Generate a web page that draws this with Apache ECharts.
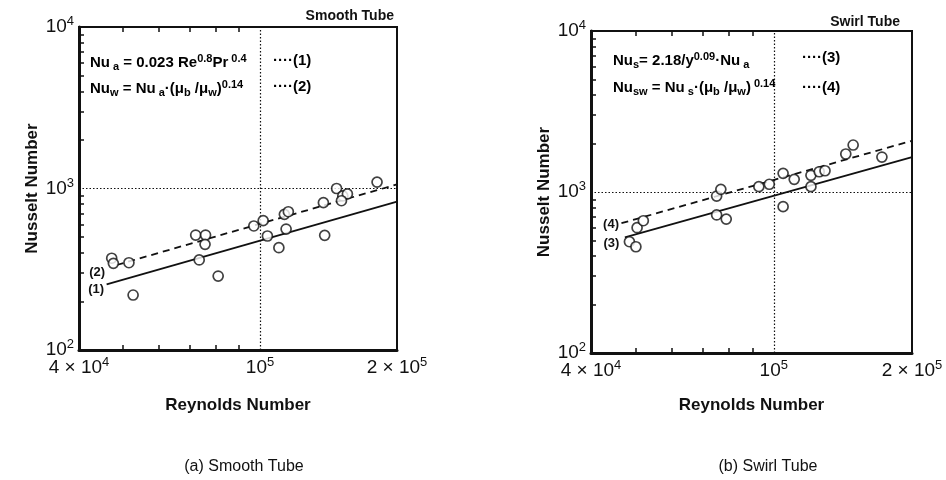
<!DOCTYPE html>
<html>
<head>
<meta charset="utf-8">
<script src="https://cdn.jsdelivr.net/npm/echarts@6/dist/echarts.min.js"></script>
<style>
  html, body { margin: 0; padding: 0; background: #fff; }
  #chart { width: 946px; height: 480px; }
</style>
</head>
<body>
<div id="chart"></div>
<script>
// (a) smooth tube measurements
var smoothRe = [47200, 47600, 51500, 52600, 72200, 75900, 75700, 73500, 80900, 96900, 101600, 103800,
                110000, 113100, 115400, 114100, 137800, 138700, 147300, 152000, 155600, 151000, 180800];
var smoothNu = [370, 344, 347, 219, 515, 515, 451, 361, 287, 586, 632, 508,
                430, 692, 718, 561, 817, 513, 1000, 899, 925, 840, 1096];
// (b) swirl tube measurements
var swirlRe = [48500, 50100, 50400, 52000, 75100, 76700, 75100, 78800, 92800, 97800, 104800, 104800,
               110800, 120500, 120500, 125600, 129300, 143500, 148900, 172000];
var swirlNu = [491, 457, 600, 663, 944, 1039, 720, 679, 1079, 1117, 1306, 811,
               1199, 1079, 1270, 1336, 1355, 1722, 1958, 1649];

// correlation lines (end points)
var line1Re = [46000, 200000], line1Nu = [255, 828];
var line2Re = [48400, 200000], line2Nu = [336, 1060];
var line3Re = [47400, 200000], line3Nu = [523, 1649];
var line4Re = [46600, 200000], line4Nu = [640, 2080];

// axes
var xTicks = [40000, 100000, 200000];
var xTickLabels = ['4 × 10^4', '10^5', '2 × 10^5'];
var xMinor = [50000, 60000, 70000, 80000, 90000];
var yTicks = [100, 1000, 10000];
var yTickLabels = ['10^2', '10^3', '10^4'];
var yMinor = [200, 300, 400, 500, 600, 700, 800, 900, 2000, 3000, 4000, 5000, 6000, 7000, 8000, 9000];

var FONT = '"Liberation Sans", Arial, sans-serif';
var INK = '#111';

function supLabel(s) {
  var p = s.split('^');
  return '{b|' + p[0] + '}{s|' + p[1] + '}';
}
function tickFmt(ticks, labels) {
  return function (v) {
    for (var i = 0; i < ticks.length; i++) {
      if (Math.abs(v - ticks[i]) / ticks[i] < 1e-6) return supLabel(labels[i]);
    }
    return '';
  };
}
function pairs(xs, ys) {
  return xs.map(function (x, i) { return [x, ys[i]]; });
}
function startLabel(xs, ys, txt, off) {
  var d = pairs(xs, ys);
  d[0] = { value: d[0], label: { show: true, position: 'left', distance: 2, offset: off, formatter: txt } };
  return d;
}

var tickRich = {
  b: { fontSize: 19, lineHeight: 24, fontFamily: FONT, color: INK },
  s: { fontSize: 13, lineHeight: 13, verticalAlign: 'top', fontFamily: FONT, color: INK }
};

function bottomX(g, gap) {
  return {
    gridIndex: g, type: 'log', logBase: 10, min: 40000, max: 200000,
    axisLine: { show: true, lineStyle: { color: INK, width: 3 } },
    axisTick: { show: true, inside: true, length: 5, customValues: xMinor, lineStyle: { color: INK, width: 1.5 } },
    axisLabel: { show: true, customValues: xTicks, formatter: tickFmt(xTicks, xTickLabels), rich: tickRich, margin: 6 },
    splitLine: { show: false },
    minorTick: { show: false },
    name: 'Reynolds Number', nameLocation: 'middle', nameGap: gap,
    nameTextStyle: { fontSize: 17, fontWeight: 'bold', fontFamily: FONT, color: INK }
  };
}
function topX(g) {
  return {
    gridIndex: g, type: 'log', logBase: 10, min: 40000, max: 200000, position: 'top',
    axisLine: { show: true, lineStyle: { color: INK, width: 2 } },
    axisTick: { show: true, inside: true, length: 5, customValues: xMinor, lineStyle: { color: INK, width: 1.5 } },
    axisLabel: { show: false },
    splitLine: { show: false }
  };
}
function leftY(g, gap) {
  return {
    gridIndex: g, type: 'log', logBase: 10, min: 100, max: 10000,
    axisLine: { show: true, lineStyle: { color: INK, width: 3 } },
    axisTick: { show: true, inside: true, length: 5, customValues: yMinor, lineStyle: { color: INK, width: 1.5 } },
    axisLabel: { show: true, customValues: yTicks, formatter: tickFmt(yTicks, yTickLabels), rich: tickRich, margin: 5 },
    splitLine: { show: false },
    name: 'Nusselt Number', nameLocation: 'middle', nameGap: gap, nameRotate: 90,
    nameTextStyle: { fontSize: 17, fontWeight: 'bold', fontFamily: FONT, color: INK }
  };
}

var dotted = {
  silent: true, symbol: 'none', label: { show: false },
  lineStyle: { color: INK, type: [1.5, 2], width: 1.2 },
  data: [{ xAxis: 100000 }, { yAxis: 1000 }]
};
var pointStyle = { color: '#fff', borderColor: INK, borderWidth: 1.7 };
var lineLbl = { fontSize: 13, fontWeight: 'bold', fontFamily: FONT, color: INK };

function scatter(g, xs, ys) {
  return {
    type: 'scatter', xAxisIndex: g * 2, yAxisIndex: g, data: pairs(xs, ys),
    symbol: 'circle', symbolSize: 10, itemStyle: pointStyle, z: 5,
    markLine: dotted
  };
}
function fitLine(g, xs, ys, txt, dashed, off) {
  return {
    type: 'line', xAxisIndex: g * 2, yAxisIndex: g, data: startLabel(xs, ys, txt, off),
    symbol: 'circle', symbolSize: 1, showSymbol: true, itemStyle: { color: 'rgba(0,0,0,0)' },
    label: lineLbl,
    lineStyle: { color: INK, width: 1.8, type: dashed ? [7, 5] : 'solid' }, z: 3
  };
}

var fRich = {
  n: { fontSize: 15, fontWeight: 'bold', fontFamily: FONT, color: INK, lineHeight: 19 },
  sub: { fontSize: 11, fontWeight: 'bold', fontFamily: FONT, color: INK, lineHeight: 13, verticalAlign: 'bottom' },
  sup: { fontSize: 11, fontWeight: 'bold', fontFamily: FONT, color: INK, lineHeight: 11, verticalAlign: 'top' }
};
function ftext(x, y, txt) {
  return { type: 'text', left: x, top: y, style: { text: txt, rich: fRich } };
}

var chart = echarts.init(document.getElementById('chart'));
chart.setOption({
  animation: false,
  backgroundColor: '#fff',
  title: [
    { text: 'Smooth Tube', right: 547, top: 4, textStyle: { fontSize: 14, fontWeight: 'bold', fontFamily: FONT, color: INK } },
    { text: 'Swirl Tube', right: 41, top: 10, textStyle: { fontSize: 14, fontWeight: 'bold', fontFamily: FONT, color: INK } },
    { text: '(a) Smooth Tube', left: 239, top: 454, textAlign: 'center', textStyle: { fontSize: 16, fontWeight: 'normal', fontFamily: FONT, color: INK } },
    { text: '(b) Swirl Tube', left: 763, top: 454, textAlign: 'center', textStyle: { fontSize: 16, fontWeight: 'normal', fontFamily: FONT, color: INK } }
  ],
  grid: [
    { left: 79, top: 27, width: 318, height: 323, show: true, borderColor: INK, borderWidth: 2 },
    { left: 591, top: 31, width: 321, height: 322, show: true, borderColor: INK, borderWidth: 2 }
  ],
  xAxis: [bottomX(0, 47), topX(0), bottomX(1, 44), topX(1)],
  yAxis: [leftY(0, 38), leftY(1, 38)],
  graphic: [
    ftext(90, 53, '{n|Nu}{sub| a}{n| = 0.023 Re}{sup|0.8}{n|Pr}{sup| 0.4}'),
    ftext(273, 53, '{n|····(1)}'),
    ftext(90, 79, '{n|Nu}{sub|w}{n| = Nu}{sub| a}{n|·(μ}{sub|b}{n| /μ}{sub|w}{n|)}{sup|0.14}'),
    ftext(273, 79, '{n|····(2)}'),
    ftext(613, 51, '{n|Nu}{sub|s}{n|= 2.18/y}{sup|0.09}{n|·Nu}{sub| a}'),
    ftext(802, 50, '{n|····(3)}'),
    ftext(613, 78, '{n|Nu}{sub|sw}{n| = Nu}{sub| s}{n|·(μ}{sub|b}{n| /μ}{sub|w}{n|)}{sup| 0.14}'),
    ftext(802, 80, '{n|····(4)}')
  ],
  series: [
    scatter(0, smoothRe, smoothNu),
    fitLine(0, line1Re, line1Nu, '(1)', false, [0, 5]),
    fitLine(0, line2Re, line2Nu, '(2)', true, [-9, 7]),
    scatter(1, swirlRe, swirlNu),
    fitLine(1, line3Re, line3Nu, '(3)', false, [-3, 6]),
    fitLine(1, line4Re, line4Nu, '(4)', true, [0, 1])
  ]
});
</script>
</body>
</html>
